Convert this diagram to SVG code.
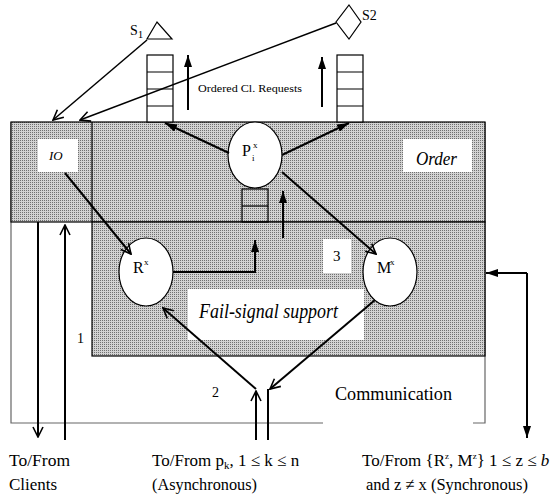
<svg xmlns="http://www.w3.org/2000/svg" width="553" height="498" viewBox="0 0 553 498">
  <defs>
    <pattern id="dots" width="2" height="2" patternUnits="userSpaceOnUse">
      <rect width="2" height="2" fill="#d2d2d2"/>
      <rect width="1" height="1" fill="#707070"/>
    </pattern>
    <marker id="solid" viewBox="0 0 12 8" refX="12" refY="4" markerWidth="12" markerHeight="8" orient="auto" markerUnits="userSpaceOnUse">
      <path d="M0,0 L12,4 L0,8 Z" fill="#000"/>
    </marker>
    <marker id="open" viewBox="0 0 12 12" refX="11" refY="6" markerWidth="12" markerHeight="12" orient="auto" markerUnits="userSpaceOnUse">
      <path d="M1,1 L11,6 L1,11" fill="none" stroke="#000" stroke-width="1.6"/>
    </marker>
  </defs>
  <style>
    text { font-family: "Times New Roman", "Liberation Serif", Tinos, "DejaVu Serif", serif; fill: #000; }
    .it { font-style: italic; }
    .box { fill: url(#dots); stroke: #000; stroke-width: 1.2; }
    .lab { fill: #fff; stroke: none; }
    .node { fill: #fff; stroke: #000; stroke-width: 1.2; }
    .q { fill: none; stroke: #000; stroke-width: 1.2; }
    .qw { fill: #fff; stroke: #000; stroke-width: 1.2; }
    .arr { fill: none; stroke: #000; stroke-width: 2; }
    .ln { fill: none; stroke: #000; stroke-width: 1.5; }
  </style>

  <!-- Communication layer outline (bottom edge broken by its label) -->
  <g id="communication">
    <path d="M323,423 H11 V122 M473,423 H485 V122" fill="none" stroke="#666" stroke-width="1.2"/>
    <text x="335" y="400" font-size="18" textLength="117" lengthAdjust="spacingAndGlyphs">Communication</text>
  </g>

  <!-- Order layer -->
  <g id="order">
    <rect class="box" x="11" y="122" width="474" height="100"/>
    <line x1="92" y1="122" x2="92" y2="222" stroke="#000" stroke-width="1.2"/>
    <rect class="lab" x="403" y="139" width="69" height="33"/>
    <text class="it" x="416" y="165" font-size="18" textLength="41" lengthAdjust="spacingAndGlyphs">Order</text>
  </g>

  <!-- IO part -->
  <g id="io">
    <rect class="lab" x="38" y="139" width="40" height="33"/>
    <text class="it" x="49" y="160" font-size="13">IO</text>
  </g>

  <!-- Fail-signal support layer -->
  <g id="failsignal">
    <rect class="box" x="92" y="222" width="393" height="134"/>
    <rect class="lab" x="188" y="289" width="176" height="51"/>
    <text class="it" x="199" y="318" font-size="21" textLength="139" lengthAdjust="spacingAndGlyphs">Fail-signal support</text>
  </g>

  <!-- Queue between P and the order layer -->
  <g id="queue-p">
    <rect class="q" x="242" y="189" width="26" height="33"/>
    <line x1="242" y1="206" x2="268" y2="206" stroke="#000" stroke-width="1.2"/>
  </g>

  <!-- Output queues -->
  <g id="queue-left">
    <rect class="qw" x="147" y="55" width="26" height="67"/>
    <path d="M147,72 H173 M147,89 H173 M147,106 H173" stroke="#000" stroke-width="1.2"/>
  </g>
  <g id="queue-right">
    <rect class="qw" x="337" y="55" width="26" height="67"/>
    <path d="M337,72 H363 M337,89 H363 M337,106 H363" stroke="#000" stroke-width="1.2"/>
  </g>

  <!-- Servers -->
  <g id="s1">
    <polygon class="node" points="157,22 147,39 172,39"/>
    <text x="130" y="35" font-size="14">S<tspan font-size="11" dy="3">1</tspan></text>
  </g>
  <g id="s2">
    <polygon class="node" points="349,5 361,22 349,39 336,22"/>
    <text x="362" y="20" font-size="14">S2</text>
  </g>

  <!-- Processes -->
  <g id="p">
    <ellipse class="node" cx="255" cy="155" rx="27" ry="33"/>
    <text x="242" y="156" font-size="16">P</text>
    <text x="252" y="161" font-size="9">i</text>
    <text x="253" y="148" font-size="9">x</text>
  </g>
  <g id="r">
    <ellipse class="node" cx="146" cy="272" rx="27" ry="34"/>
    <text x="133" y="273" font-size="16">R</text>
    <text x="144" y="265" font-size="9">x</text>
  </g>
  <g id="m">
    <ellipse class="node" cx="390" cy="272" rx="27" ry="34"/>
    <text x="377" y="273" font-size="16">M</text>
    <text x="390" y="265" font-size="9">x</text>
  </g>

  <!-- Step numbers -->
  <g id="label-1"><text x="77" y="343" font-size="14">1</text></g>
  <g id="label-2"><text x="212" y="397" font-size="14">2</text></g>
  <g id="label-3">
    <rect class="lab" x="323" y="239" width="28" height="34"/>
    <text x="333" y="261" font-size="15">3</text>
  </g>

  <!-- Connectors -->
  <g id="connectors">
    <line class="ln" x1="147" y1="40" x2="53" y2="120" marker-end="url(#open)"/>
    <line class="ln" x1="336" y1="23" x2="80" y2="120" marker-end="url(#open)"/>
    <line class="arr" x1="188" y1="110" x2="188" y2="55" marker-end="url(#solid)"/>
    <line class="arr" x1="322" y1="107" x2="322" y2="57" marker-end="url(#solid)"/>
    <line class="arr" x1="229" y1="153" x2="165" y2="123" marker-end="url(#solid)"/>
    <line class="arr" x1="282" y1="155" x2="349" y2="123" marker-end="url(#solid)"/>
    <line class="arr" x1="282" y1="172" x2="376" y2="254" marker-end="url(#open)"/>
    <line class="arr" x1="65" y1="173" x2="131" y2="254" marker-end="url(#open)"/>
    <path class="arr" d="M173,272 H255 V240" marker-end="url(#solid)"/>
    <line class="arr" x1="283" y1="238" x2="283" y2="191" marker-end="url(#solid)"/>
    <line class="arr" x1="256" y1="389" x2="163" y2="308" marker-end="url(#open)"/>
    <line class="arr" x1="375" y1="300" x2="270" y2="389" marker-end="url(#open)"/>
    <line class="arr" x1="256" y1="440" x2="256" y2="391" marker-end="url(#open)"/>
    <line class="arr" x1="268" y1="440" x2="268" y2="389"/>
    <line class="arr" x1="38" y1="222" x2="38" y2="437" marker-end="url(#open)"/>
    <line class="arr" x1="65" y1="440" x2="65" y2="225" marker-end="url(#open)"/>
    <path class="arr" d="M527,273 H486" marker-end="url(#solid)"/>
    <path class="arr" d="M527,273 V438" marker-end="url(#solid)"/>
    <text x="198" y="92" font-size="11" textLength="104" lengthAdjust="spacingAndGlyphs">Ordered Cl. Requests</text>
  </g>

  <!-- Endpoint captions -->
  <g id="clients">
    <text x="9" y="466" font-size="17" textLength="61" lengthAdjust="spacingAndGlyphs">To/From</text>
    <text x="9" y="490" font-size="17">Clients</text>
  </g>
  <g id="peers">
    <text x="152" y="466" font-size="17">To/From p<tspan font-size="11" dy="3">k</tspan><tspan dy="-3">, 1 ≤ k ≤ n</tspan></text>
    <text x="152" y="490" font-size="17" textLength="105" lengthAdjust="spacingAndGlyphs">(Asynchronous)</text>
  </g>
  <g id="replicas">
    <text x="362" y="466" font-size="17">To/From {R<tspan font-size="9" dy="-7">z</tspan><tspan dy="7">, M</tspan><tspan font-size="9" dy="-7">z</tspan><tspan dy="7">}  1 ≤ z ≤ </tspan><tspan font-style="italic">b</tspan></text>
    <text x="366" y="490" font-size="17" textLength="162" lengthAdjust="spacingAndGlyphs">and z ≠ x (Synchronous)</text>
  </g>
</svg>
